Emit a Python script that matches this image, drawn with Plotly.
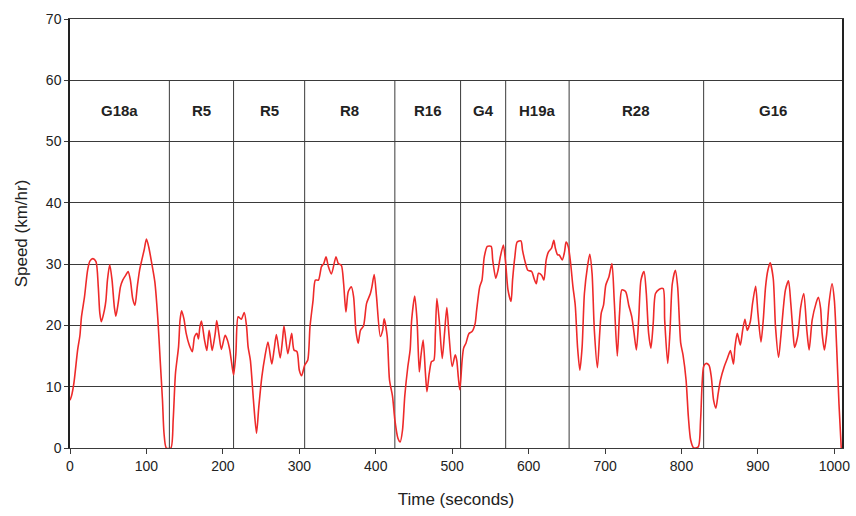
import plotly.graph_objects as go

# Time (s) and speed (km/hr)
time_s = [0, 2, 5, 10, 13, 15, 19, 23, 26, 30, 34, 37, 39, 41, 45, 47, 49, 52, 55, 58, 60, 63, 66, 69, 73, 76, 79, 82, 85, 88, 91, 94, 97, 100, 103, 107, 111, 115, 118, 121, 123, 126, 132, 135, 138, 142, 144, 146, 149, 152, 156, 160, 163, 166, 168, 170, 172, 176, 179, 182, 184, 186, 190, 192, 195, 198, 203, 206, 209, 211, 214,
          217, 220, 224, 228, 231, 233, 236, 240, 244, 247, 251, 255, 259, 264, 267, 270, 275, 278, 280, 285, 290, 293, 297, 300, 303, 307, 311, 314, 318, 321, 325, 329, 332, 335, 338, 342, 348, 351, 355, 358, 361, 364, 368, 371, 374, 377, 380, 384, 388, 393, 395, 398, 401, 406, 409, 411, 415, 418, 422, 425, 429, 432, 435, 438,
          442, 445, 447, 451, 454, 457, 459, 462, 465, 467, 470, 473, 476, 478, 480, 483, 487, 490, 493, 496, 500, 504, 506, 508, 510, 513, 515, 518, 522, 526, 530, 532, 536, 539, 542, 546, 551, 553, 557, 560, 563, 567, 570, 573, 577, 579, 582, 585, 590, 592, 596, 599, 604, 607, 610, 613, 617, 620, 623, 626, 630, 633, 635, 638, 640, 644, 647, 649, 652, 655, 658, 661,
          664, 667, 670, 673, 677, 680, 683, 686, 690, 693, 695, 698, 701, 705, 709, 712, 716, 719, 722, 727, 731, 735, 738, 741, 744, 747, 751, 754, 757, 760, 763, 766, 771, 776, 778, 782, 785, 788, 792, 795, 799, 802, 806, 809, 812, 816, 822, 825, 829, 832, 836, 839, 842, 845, 848, 851, 856, 860, 864, 868, 870, 873, 877, 880, 883, 886,
          890, 893, 897, 900, 904, 907, 910, 913, 916, 920, 923, 927, 930, 933, 936, 940, 943, 946, 948, 952, 956, 960, 964, 967, 971, 976, 979, 982, 984, 987, 990, 993, 997, 1000, 1003, 1006, 1009]
speed_kmh = [7.8, 8.5, 10.5, 16, 18.4, 21.4, 24.7, 29, 30.5, 30.9, 30.4, 26.3, 22, 20.6, 22.5, 24.1, 27.4, 29.9, 27.4, 23, 21.5, 23.6, 26.3, 27.4, 28.2, 28.8, 27.4, 24.4, 23.3, 26.3, 29, 30.7, 32.3, 34.1, 32.8, 30.1, 27.1, 20.9, 14.3, 7.8, 2.4, 0, 0, 4.6, 12.2, 16.5, 20.9, 22.4, 21.1, 18.7, 16.8, 15.7, 18.2, 18.7, 17.8, 19.8, 20.7, 17.6, 15.9, 19.2, 17.6, 15.9, 18.7, 20.8, 18.4, 16.1, 18.4, 17.6, 16, 14.3, 11.9,
             15.4, 21.4, 21, 22.1, 19.8, 16.5, 14.3, 7.8, 2.4, 6.7, 11.6, 14.9, 17.3, 13.7, 16, 18.5, 14.7, 17.6, 19.9, 15.4, 18.7, 16, 15.7, 12.7, 11.8, 13.5, 14.3, 19.8, 24.1, 27.4, 27.4, 29.6, 30.1, 31.2, 29.6, 28.4, 31.2, 30.1, 29.8, 26.8, 22.2, 25.5, 26.3, 24.7, 19.2, 17.1, 19.2, 19.9, 23.6, 25.2, 26.3, 28.3, 24.7, 18.2, 19.2, 21.1, 18.2, 11.1, 8.4, 4.6, 1.6, 1, 2.9, 8.5,
             13.3, 16, 20.9, 24.8, 20.9, 12.4, 14.9, 17.6, 12.2, 9.2, 12.2, 14.1, 14.3, 18.7, 24.4, 20.9, 14.6, 18.7, 22.9, 18.2, 13.3, 15.2, 14.3, 11.6, 9.5, 14.3, 16.3, 17.1, 18.7, 19, 20.3, 22.5, 26.3, 27.4, 31.2, 32.9, 32.9, 30.7, 27.7, 29, 31.2, 33.1, 30.1, 25.8, 23.9, 27.4, 31.2, 33.6, 33.8, 32.3, 30.1, 29, 28.8, 27.7, 26.8, 28.5, 28.2, 27.4, 30.7, 32, 32.6, 33.9, 32.6, 31.5, 31.5, 30.7, 32, 33.6, 32.8, 30.1, 26.3, 23.3,
             16.5, 12.7, 16.5, 25.2, 29.6, 31.6, 28.5, 19.2, 13.1, 18.7, 22, 23.3, 26.6, 27.9, 30.1, 24.1, 15, 22, 25.8, 25.5, 23.3, 21.4, 18.7, 16, 20.9, 27.4, 28.8, 25.2, 18.7, 16.3, 20.3, 25.2, 25.9, 26, 20.9, 13.8, 19.2, 26.8, 29, 26.3, 17.1, 15.2, 11.1, 5.1, 1.3, 0, 0.2, 4.6, 13.3, 13.8, 13.5, 11.6, 7.8, 6.5, 8.9, 11.1, 13.3, 14.6, 15.9, 13.7, 16.5, 18.7, 16.8, 19.2, 21, 19.2,
             20.6, 23.6, 26.4, 22, 17.3, 20.9, 26.3, 29, 30.2, 27.7, 19.8, 14.8, 18.2, 22.5, 25.8, 27.3, 23.6, 18.7, 16.4, 18.2, 23, 25.2, 19.2, 16, 20.9, 23.6, 24.6, 22.8, 18.7, 16, 18.7, 23.6, 26.8, 24.1, 16.5, 7.3, 0]

# Route segments
segment_bounds = [0, 130, 214, 307, 425, 511, 570, 653, 829, 1010]
segment_labels = ["G18a", "R5", "R5", "R8", "R16", "G4", "H19a", "R28", "G16"]
x_ticks = list(range(0, 1001, 100))
y_ticks = list(range(0, 71, 10))

line_col = "#3a3a3a"
font_fam = "Liberation Sans, Arial, sans-serif"

fig = go.Figure()
fig.add_trace(go.Scatter(
    x=time_s, y=speed_kmh, mode="lines",
    line=dict(color="#ee2a2a", width=1.6, shape="spline", smoothing=0.7),
    hoverinfo="skip", showlegend=False,
))

shapes = []
for b in segment_bounds[1:-1]:
    shapes.append(dict(type="line", xref="x", yref="y", x0=b, x1=b, y0=0, y1=60,
                       line=dict(color=line_col, width=1), layer="below"))

annotations = []
for i, lab in enumerate(segment_labels):
    xm = (segment_bounds[i] + segment_bounds[i + 1]) / 2
    annotations.append(dict(x=xm, y=55, xref="x", yref="y", text="<b>%s</b>" % lab,
                            showarrow=False, font=dict(size=15, color="#222", family=font_fam)))

fig.update_layout(
    width=856, height=516,
    margin=dict(l=70, r=14, t=19, b=68, autoexpand=False),
    paper_bgcolor="white", plot_bgcolor="white",
    font=dict(family=font_fam, size=14, color="#222"),
    shapes=shapes, annotations=annotations,
    xaxis=dict(range=[0, 1010], tickvals=x_ticks, ticks="outside", ticklen=5,
               tickcolor=line_col, showgrid=False, zeroline=False, automargin=False,
               showline=True, linecolor=line_col, linewidth=1, mirror=True,
               title=dict(text="Time (seconds)", standoff=20),
               tickfont=dict(size=14)),
    yaxis=dict(range=[0, 70], tickvals=y_ticks, ticks="outside", ticklen=4,
               tickcolor=line_col, showgrid=True, gridcolor=line_col, gridwidth=1,
               zeroline=False, showline=True, linecolor="#222", linewidth=1.5, mirror=True,
               automargin=False,
               title=dict(text="Speed (km/hr)", standoff=14),
               tickfont=dict(size=14)),
)

fig.write_html("out.html")
